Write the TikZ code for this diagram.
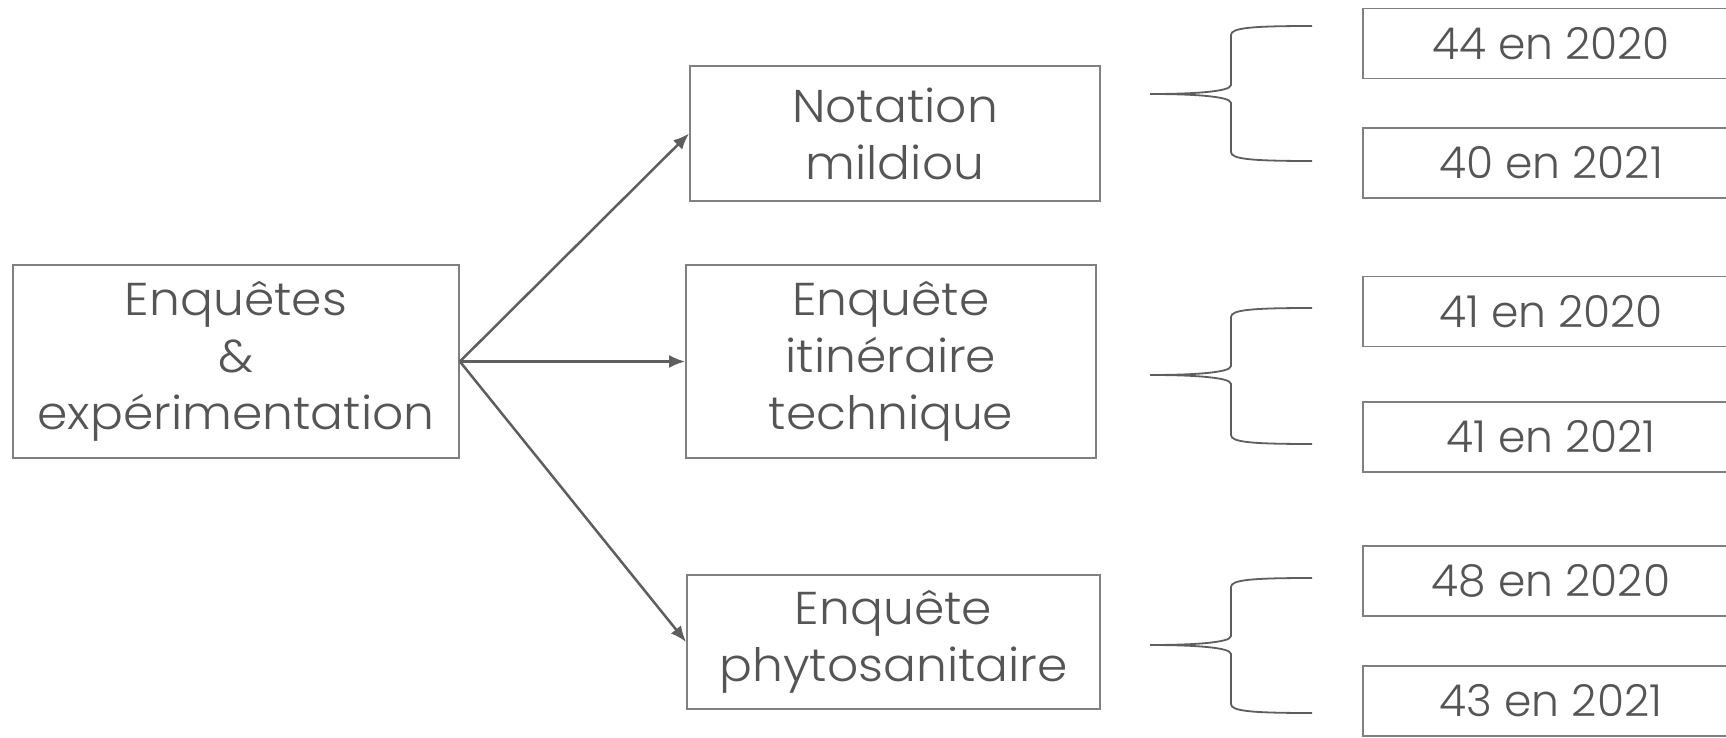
\documentclass[tikz,border=0pt]{standalone}
\usepackage{fontspec}
\setmainfont{Poppins Light}
\newfontfamily\bigfont{Poppins Light}[FakeStretch=1.06]
\newfontfamily\yearfont{Poppins Light}
\usetikzlibrary{arrows.meta}
\definecolor{txt}{HTML}{555555}
\definecolor{bord}{HTML}{808080}
\definecolor{arr}{HTML}{5E5E5E}
\tikzset{
  x=0.5pt, y=-0.5pt,
  box/.style={draw=bord, line width=0.9pt, text=txt, align=center, inner sep=0pt,
    font=\bigfont\fontsize{23}{28.5}\selectfont},
  yearbox/.style={box, minimum width=188pt, minimum height=35pt,
    font=\yearfont\fontsize{22}{26}\selectfont},
  link/.style={draw=arr, line width=1.25pt, -{Latex[length=8pt,width=6.5pt]}},
  brace/.style={draw=arr, line width=0.9pt},
}
\newcommand{\mybrace}[3]{% tip y, top y, bottom y
  \draw[brace] (1312,#2) .. controls (1250,#2) and (1231,#2+2) .. (1231,#2+9)
    -- (1231,#1-9) .. controls (1231,#1-2) and (1190,#1) .. (1150,#1)
    .. controls (1190,#1) and (1231,#1+2) .. (1231,#1+9)
    -- (1231,#3-9) .. controls (1231,#3-2) and (1250,#3) .. (1312,#3);
}
\begin{document}
\begin{tikzpicture}
\useasboundingbox (0,0) rectangle (1726,738);
\node[box, minimum width=223pt, minimum height=96.5pt] (root) at (236,361.5) {Enquêtes\\\&\\expérimentation};
\node[box, minimum width=205pt, minimum height=67.5pt] (mild) at (895,133.5) {Notation\\mildiou};
\node[box, minimum width=205pt, minimum height=96.5pt] (itk) at (891,361.5) {Enquête\\itinéraire\\technique};
\node[box, minimum width=206.5pt, minimum height=67pt] (phyto) at (893.5,642) {Enquête\\phytosanitaire};

\draw[link] (root.east) -- (mild.west);
\draw[link] (root.east) -- (itk.west);
\draw[link] (root.east) -- (phyto.west);

\node[yearbox] (m20) at (1551,43.5) {44 en 2020};
\node[yearbox] (m21) at (1551,163) {40 en 2021};
\node[yearbox] (i20) at (1551,311.5) {41 en 2020};
\node[yearbox] (i21) at (1551,437) {41 en 2021};
\node[yearbox] (p20) at (1551,581) {48 en 2020};
\node[yearbox] (p21) at (1551,701) {43 en 2021};

\mybrace{94}{26}{161}
\mybrace{375}{308}{444}
\mybrace{645}{578}{713}
\end{tikzpicture}
\end{document}
